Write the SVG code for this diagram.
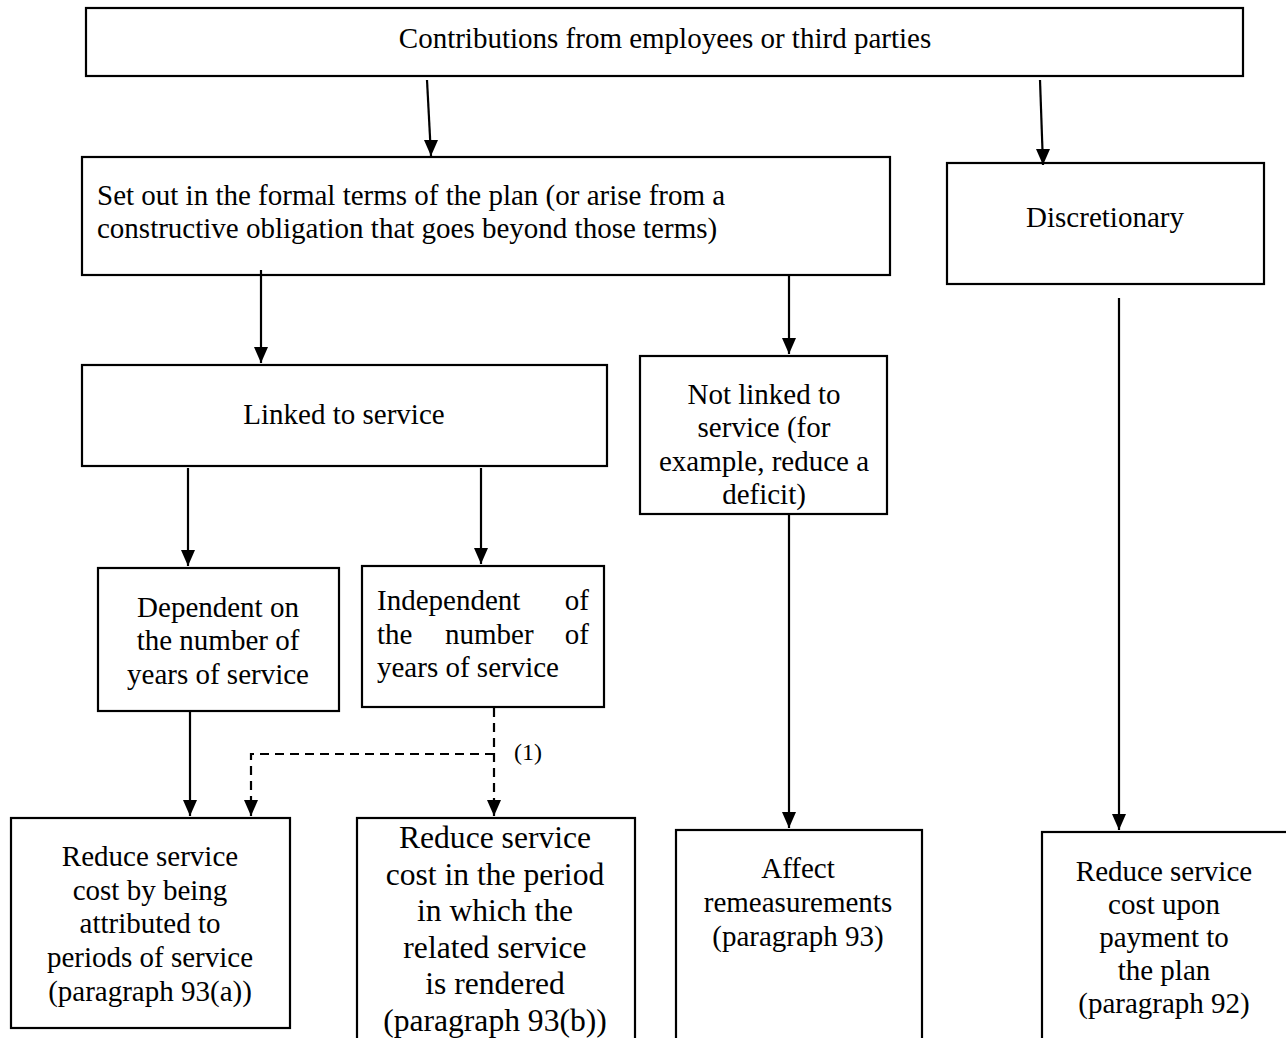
<svg xmlns="http://www.w3.org/2000/svg" width="1286" height="1038" viewBox="0 0 1286 1038">
<style>
.box{fill:#fff;stroke:#000;stroke-width:2.2}
.t{font-family:"Liberation Serif","Times New Roman",serif;font-size:29px;fill:#000}
.c{text-anchor:middle}
.big{font-size:31.6px}
.small{font-size:24px}
.ln{stroke:#000;stroke-width:2.2;fill:none}
.dash{stroke-dasharray:9 6}
</style>
<defs>
<marker id="ah" viewBox="0 0 14 16" refX="7" refY="16" markerWidth="14" markerHeight="16" markerUnits="userSpaceOnUse" orient="0">
<path d="M0,0 L14,0 L7,16 Z" fill="#000"/>
</marker>
</defs>
<rect width="1286" height="1038" fill="#fff"/>

<g id="top">
<rect class="box" x="86" y="8" width="1157" height="68"/>
<text class="t c" x="665" y="48">Contributions from employees or third parties</text>
</g>

<g id="setout">
<rect class="box" x="82" y="157" width="808" height="118"/>
<text class="t" x="97" y="205">Set out in the formal terms of the plan (or arise from a</text>
<text class="t" x="97" y="238">constructive obligation that goes beyond those terms)</text>
</g>

<g id="discretionary">
<rect class="box" x="947" y="163" width="317" height="121"/>
<text class="t c" x="1105" y="227">Discretionary</text>
</g>

<g id="linked">
<rect class="box" x="82" y="365" width="525" height="101"/>
<text class="t c" x="344" y="424">Linked to service</text>
</g>

<g id="notlinked">
<rect class="box" x="640" y="356" width="247" height="158"/>
<text class="t c" x="764" y="404">Not linked to</text>
<text class="t c" x="764" y="437">service (for</text>
<text class="t c" x="764" y="471">example, reduce a</text>
<text class="t c" x="764" y="504">deficit)</text>
</g>

<g id="dependent">
<rect class="box" x="98" y="568" width="241" height="143"/>
<text class="t c" x="218" y="617">Dependent on</text>
<text class="t c" x="218" y="650">the number of</text>
<text class="t c" x="218" y="684">years of service</text>
</g>

<g id="independent">
<rect class="box" x="362" y="566" width="242" height="141"/>
<text class="t" x="377" y="610">Independent</text>
<text class="t" x="589" y="610" text-anchor="end">of</text>
<text class="t" x="377" y="644">the</text>
<text class="t" x="445" y="644">number</text>
<text class="t" x="589" y="644" text-anchor="end">of</text>
<text class="t" x="377" y="677">years of service</text>
</g>

<g id="reduce-a">
<rect class="box" x="11" y="818" width="279" height="210"/>
<text class="t c" x="150" y="866">Reduce service</text>
<text class="t c" x="150" y="900">cost by being</text>
<text class="t c" x="150" y="933">attributed to</text>
<text class="t c" x="150" y="967">periods of service</text>
<text class="t c" x="150" y="1001">(paragraph 93(a))</text>
</g>

<g id="reduce-b">
<rect class="box" x="357" y="818" width="278" height="240"/>
<text class="t c big" x="495" y="848">Reduce service</text>
<text class="t c big" x="495" y="885">cost in the period</text>
<text class="t c big" x="495" y="921">in which the</text>
<text class="t c big" x="495" y="958">related service</text>
<text class="t c big" x="495" y="994">is rendered</text>
<text class="t c big" x="495" y="1031">(paragraph 93(b))</text>
</g>

<g id="affect">
<rect class="box" x="676" y="830" width="246" height="230"/>
<text class="t c" x="798" y="878">Affect</text>
<text class="t c" x="798" y="912">remeasurements</text>
<text class="t c" x="798" y="946">(paragraph 93)</text>
</g>

<g id="reduce-payment">
<rect class="box" x="1042" y="832" width="260" height="230"/>
<text class="t c" x="1164" y="881">Reduce service</text>
<text class="t c" x="1164" y="914">cost upon</text>
<text class="t c" x="1164" y="947">payment to</text>
<text class="t c" x="1164" y="980">the plan</text>
<text class="t c" x="1164" y="1013">(paragraph 92)</text>
</g>

<g id="connectors">
<line class="ln" x1="427" y1="80" x2="431" y2="156" marker-end="url(#ah)"/>
<line class="ln" x1="1040" y1="80" x2="1043" y2="165" marker-end="url(#ah)"/>
<line class="ln" x1="261" y1="270" x2="261" y2="363" marker-end="url(#ah)"/>
<line class="ln" x1="789" y1="274" x2="789" y2="354" marker-end="url(#ah)"/>
<line class="ln" x1="188" y1="468" x2="188" y2="566" marker-end="url(#ah)"/>
<line class="ln" x1="481" y1="468" x2="481" y2="564" marker-end="url(#ah)"/>
<line class="ln" x1="190" y1="711" x2="190" y2="816" marker-end="url(#ah)"/>
<line class="ln" x1="789" y1="514" x2="789" y2="828" marker-end="url(#ah)"/>
<line class="ln" x1="1119" y1="298" x2="1119" y2="830" marker-end="url(#ah)"/>
<path class="ln dash" d="M494,708 V816" marker-end="url(#ah)"/>
<path class="ln dash" d="M494,754 H251 V816" marker-end="url(#ah)"/>
<text class="t small" x="514" y="760">(1)</text>
</g>
</svg>
